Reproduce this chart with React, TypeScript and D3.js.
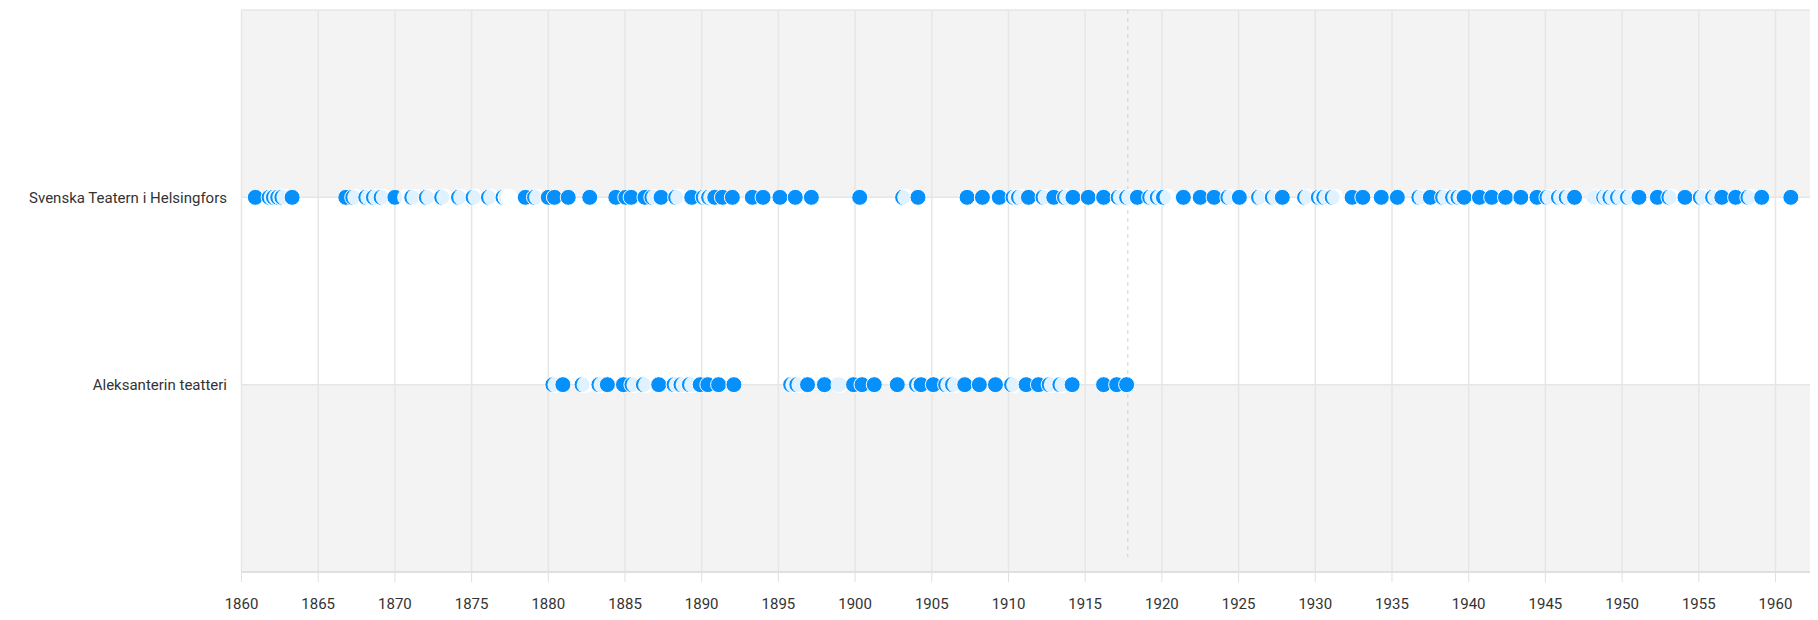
import React from "react";
import * as d3 from "d3";

const categories = ["Svenska Teatern i Helsingfors", "Aleksanterin teatteri"];

// Performance years (blue markers)
const svenskaShows = [
  1860.9, 1861.8, 1862.08, 1862.36, 1862.63, 1863.3, 1866.8, 1867.25, 1868.1, 1868.6, 1869.1, 1870.0,
  1871.1, 1872.05, 1873.05, 1874.15, 1875.1, 1876.1, 1877.05, 1877.25, 1878.5, 1879.1, 1880.0, 1880.4,
  1881.3, 1882.7, 1884.4, 1885.05, 1885.4, 1886.3, 1886.75, 1887.35, 1888.3, 1889.35, 1890.1, 1890.45,
  1890.85, 1891.35, 1892.0, 1893.3, 1894.0, 1895.1, 1896.1, 1897.15, 1900.3, 1903.1, 1904.1, 1907.3,
  1908.3, 1909.4, 1910.3, 1910.65, 1911.3, 1912.25, 1912.95, 1913.65, 1914.2, 1915.2, 1916.2, 1917.15,
  1917.7, 1918.4, 1919.2, 1919.7, 1920.1, 1921.4, 1922.5, 1923.4, 1924.3, 1925.05, 1926.3, 1927.2,
  1927.85, 1929.3, 1930.2, 1930.55, 1931.1, 1932.4, 1933.1, 1934.3, 1935.35, 1936.75, 1937.5, 1938.3,
  1938.95, 1939.3, 1939.7, 1940.7, 1941.5, 1942.4, 1943.4, 1944.45, 1945.1, 1945.85, 1946.35, 1946.9,
  1948.2, 1948.8, 1949.2, 1949.7, 1950.35, 1951.1, 1952.3, 1953.05, 1954.1, 1955.1, 1955.9, 1956.5,
  1957.4, 1958.2, 1959.1, 1961.0,
];
// Hidden (whited-out) performances
const svenskaHidden = [
  1862.0, 1862.28, 1862.56, 1862.83, 1867.45, 1868.3, 1868.8, 1869.3, 1870.7, 1871.3, 1872.25, 1873.25,
  1874.35, 1875.3, 1876.3, 1877.25, 1877.45, 1879.3, 1886.95, 1888.5, 1890.3, 1890.65, 1903.3, 1910.5,
  1910.85, 1912.45, 1913.85, 1917.35, 1917.9, 1919.4, 1919.9, 1920.4, 1924.5, 1926.5, 1927.4, 1929.5,
  1930.4, 1930.75, 1931.3, 1936.95, 1938.5, 1939.15, 1939.5, 1945.3, 1946.05, 1946.55, 1948.25, 1948.95,
  1949.4, 1949.9, 1950.55, 1953.25, 1955.3, 1956.1, 1958.4,
];

const aleksShows = [
  1880.3, 1880.95, 1882.2, 1883.3, 1883.85, 1884.9, 1885.45, 1886.2, 1887.2, 1888.2, 1888.65, 1889.2,
  1889.9, 1890.4, 1891.1, 1892.1, 1895.8, 1896.2, 1896.9, 1898.0, 1898.95, 1899.9, 1900.45, 1901.25,
  1902.75, 1904.0, 1904.3, 1905.1, 1905.9, 1906.35, 1907.15, 1908.1, 1909.15, 1910.2, 1911.15, 1911.95,
  1912.65, 1913.35, 1914.15, 1916.2, 1917.05, 1917.7,
];
const aleksHidden = [
  1880.5, 1882.4, 1883.5, 1885.65, 1886.4, 1888.4, 1888.85, 1889.4, 1896.0, 1896.4, 1899.0, 1904.2,
  1906.1, 1906.55, 1910.4, 1912.85, 1913.55,
];

const xTickValues = d3.range(1860, 1961, 5);
const independenceYear = 1917.78;

const W = 1818;
const H = 620;
const LEFT = 241.5;
const RIGHT = 1810;
const TOP = 10;
const BOTTOM = 572;

const BLUE = "#0590fc";
const GRID = "#e6e6e6";
const BAND = "#f3f3f3";

export default function App() {
  const x = d3.scaleLinear().domain([1860, 1962.25]).range([LEFT, RIGHT]);
  const y = d3.scaleLinear().domain([-1, 2]).range([TOP, BOTTOM]);

  const rows = [
    { name: categories[0], shows: svenskaShows, hidden: svenskaHidden },
    { name: categories[1], shows: aleksShows, hidden: aleksHidden },
  ];

  const bands = [-1, 0, 1];

  return (
    <svg
      width={W}
      height={H}
      style={{ position: "absolute", left: 0, top: 0, fontFamily: "Roboto, 'Noto Sans', sans-serif" }}
    >
      <rect x={0} y={0} width={W} height={H} fill="#fff" />
      {bands.map((b, i) => (
        <rect
          key={b}
          x={LEFT}
          y={y(b)}
          width={RIGHT - LEFT}
          height={y(b + 1) - y(b)}
          fill={i % 2 === 0 ? BAND : "#fff"}
        />
      ))}
      {xTickValues.map((t) => (
        <line key={t} x1={x(t)} x2={x(t)} y1={TOP} y2={BOTTOM} stroke={GRID} strokeWidth={1.5} />
      ))}
      <line x1={LEFT} x2={RIGHT} y1={TOP} y2={TOP} stroke={GRID} strokeWidth={1.5} />
      {rows.map((r, i) => (
        <line key={r.name} x1={LEFT} x2={RIGHT} y1={y(i)} y2={y(i)} stroke={GRID} strokeWidth={1.5} />
      ))}
      <line
        x1={x(independenceYear)}
        x2={x(independenceYear)}
        y1={TOP}
        y2={557}
        stroke="#d0d0d0"
        strokeWidth={1}
        strokeDasharray="4,4"
      />
      <line x1={LEFT} x2={RIGHT} y1={BOTTOM} y2={BOTTOM} stroke="#e0e0e0" strokeWidth={2} />
      {xTickValues.map((t) => (
        <g key={t}>
          <line x1={x(t)} x2={x(t)} y1={BOTTOM} y2={BOTTOM + 10} stroke="#e0e0e0" strokeWidth={1} />
          <text x={x(t)} y={609} textAnchor="middle" fontSize={15} fill="#333">
            {t}
          </text>
        </g>
      ))}
      {rows.map((r, i) => (
        <text key={r.name} x={227} y={y(i)} dy="0.35em" textAnchor="end" fontSize={15} fill="#333">
          {r.name}
        </text>
      ))}
      {rows.map((r, i) => {
        const items = [
          ...r.shows.map((v) => ({ v, hidden: false })),
          ...r.hidden.map((v) => ({ v, hidden: true })),
        ].sort((a, b) => a.v - b.v || (a.hidden ? 1 : 0) - (b.hidden ? 1 : 0));
        return (
          <g key={r.name}>
            {items.map((p, j) =>
              p.hidden ? (
                <circle key={j} cx={x(p.v)} cy={y(i)} r={8.5} fill="#fff" fillOpacity={0.88} />
              ) : (
                <circle key={j} cx={x(p.v)} cy={y(i)} r={8} fill={BLUE} stroke="#fff" strokeWidth={1} />
              )
            )}
          </g>
        );
      })}
    </svg>
  );
}
